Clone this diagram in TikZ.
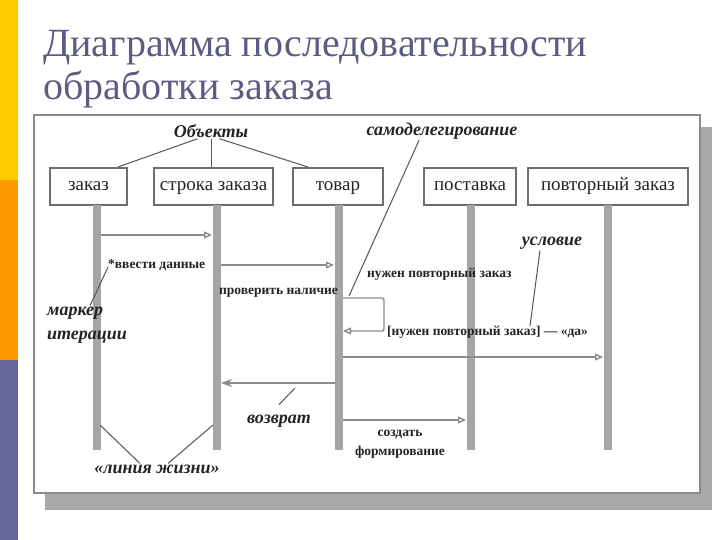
\documentclass[tikz,border=0pt]{standalone}
\usepackage{fontspec}
\setmainfont{Liberation Serif}
\usepackage{xcolor}
\usepackage{tikz}
\usetikzlibrary{arrows.meta, positioning, calc}
\definecolor{baryellow}{RGB}{255, 204, 0}
\definecolor{barorange}{RGB}{255, 153, 0}
\definecolor{barpurple}{RGB}{102, 102, 153}
\definecolor{titleblue}{RGB}{92, 92, 128}
\definecolor{framegray}{RGB}{138, 138, 138}
\definecolor{shadowgray}{RGB}{168, 168, 168}
\definecolor{boxgray}{RGB}{110, 110, 110}
\definecolor{lifegray}{RGB}{165, 165, 165}
\definecolor{msggray}{RGB}{140, 140, 140}
\definecolor{notegray}{RGB}{85, 85, 85}
\definecolor{textdark}{RGB}{35, 35, 35}

\begin{document}
\begin{tikzpicture}[x=1pt, y=-1pt,
    objbox/.style={draw=boxgray, line width=1.3pt, fill=white, minimum height=37pt,
                   inner sep=0pt, text height=12pt, text depth=4pt, text=textdark,
                   font=\fontsize{19}{21}\selectfont},
    lifeline/.style={draw=lifegray, line width=8pt},
    msg/.style={draw=msggray, line width=1.4pt, -{Triangle[open, length=8pt, width=7pt]}},
    retmsg/.style={draw=msggray, line width=1.4pt, -{Stealth[length=11pt, width=8pt]}},
    note/.style={text=textdark, inner sep=1pt, font=\fontsize{18}{24}\selectfont\bfseries\itshape},
    msglabel/.style={text=textdark, inner sep=1pt, font=\fontsize{13.5}{19}\selectfont\bfseries},
    titleline/.style={anchor=base west, text=titleblue, inner sep=0pt, font=\fontsize{40}{43}\selectfont},
    pointer/.style={draw=notegray, line width=1pt}]
    \useasboundingbox (0,0) rectangle (720,540);

    % Side bar
    \fill[baryellow] (0,0) rectangle (18,180);
    \fill[barorange] (0,180) rectangle (18,360);
    \fill[barpurple] (0,360) rectangle (18,540);

    % Title
    \node[titleline] (title1) at (43,57) {Диаграмма последовательности};
    \node[titleline] (title2) at (43,100) {обработки заказа};

    % Frame with shadow
    \fill[shadowgray] (45,127) rectangle (712,510);
    \draw[framegray, line width=1.5pt, fill=white] (34,115) rectangle (700,493);

    % Objects
    \node[objbox, minimum width=77pt] (zakaz) at (88.5,186.5) {заказ};
    \node[objbox, minimum width=119pt] (stroka) at (213.5,186.5) {строка заказа};
    \node[objbox, minimum width=90pt] (tovar) at (338,186.5) {товар};
    \node[objbox, minimum width=92pt] (postavka) at (470,186.5) {поставка};
    \node[objbox, minimum width=160pt] (povtor) at (608,186.5) {повторный заказ};

    % Lifelines
    \foreach \obj/\x in {zakaz/97, stroka/217, tovar/339, postavka/471, povtor/608} {
        \coordinate (\obj-top) at (\x,205.5);
        \coordinate (\obj-bot) at (\x,450);
        \draw[lifeline] (\obj-top) -- (\obj-bot);
    }

    % Messages
    \coordinate (m1a) at (101,235);  \coordinate (m1b) at (212,235);
    \coordinate (m2a) at (221,265);  \coordinate (m2b) at (334,265);
    \coordinate (s1) at (343,298);   \coordinate (s2) at (384,298);
    \coordinate (s3) at (384,331);   \coordinate (s4) at (343,331);
    \coordinate (m4a) at (343,357);  \coordinate (m4b) at (603,357);
    \coordinate (r1) at (335,383);   \coordinate (r2) at (221,383);
    \coordinate (m6a) at (343,420);  \coordinate (m6b) at (466,420);
    \draw[msg] (m1a) -- (m1b);
    \draw[msg] (m2a) -- (m2b);
    \draw[msg, rounded corners=2pt] (s1) -- (s2) -- (s3) -- (s4);
    \draw[msg] (m4a) -- (m4b);
    \draw[retmsg] (r1) -- (r2);
    \draw[msg] (m6a) -- (m6b);

    % Message labels
    \node[msglabel, anchor=west] (vvod) at (107,265) {*ввести данные};
    \node[msglabel, anchor=west] (prov) at (218,293) {проверить наличие};
    \node[msglabel, anchor=west] (nuzh) at (366,274) {нужен повторный заказ};
    \node[msglabel, anchor=west] (uslv) at (386,332) {[нужен повторный заказ] — «да»};
    \node[msglabel, align=center] (sozd) at (400,444) {создать\\формирование};

    % Annotations
    \node[note] (objekty) at (211,131) {Объекты};
    \node[note] (samodel) at (442,131) {самоделегирование};
    \node[note] (uslovie) at (552,243) {условие};
    \node[note, anchor=west, align=left] (marker) at (46,325) {маркер\\итерации};
    \node[note] (vozvrat) at (279,421) {возврат};
    \node[note] (zhizn) at (157,469) {«линия жизни»};

    % Annotation pointers
    \coordinate (ob-z) at (118,167);
    \coordinate (ob-t) at (308,167);
    \coordinate (sd-t) at (349,296);
    \coordinate (us-t) at (530,326);
    \coordinate (mk-t) at (108,267);
    \coordinate (vz-t) at (295,388);
    \coordinate (lz-z) at (100,425);
    \coordinate (lz-s) at (213,425);
    \draw[pointer] (objekty.south west) ++(25,0) -- (ob-z);
    \draw[pointer] (objekty.south) -- (stroka.north -| objekty.south);
    \draw[pointer] (objekty.south east) ++(-30,0) -- (ob-t);
    \draw[pointer] (samodel.south) ++(-23,0) -- (sd-t);
    \draw[pointer] (uslovie.south) ++(-12,0) -- (us-t);
    \draw[pointer] (marker.north) ++(3,0) -- (mk-t);
    \draw[pointer] (vozvrat.north) ++(0,-9) -- (vz-t);
    \draw[pointer] (zhizn.north) ++(-17,0) -- (lz-z);
    \draw[pointer] (zhizn.north) ++(11,0) -- (lz-s);
\end{tikzpicture}
\end{document}
